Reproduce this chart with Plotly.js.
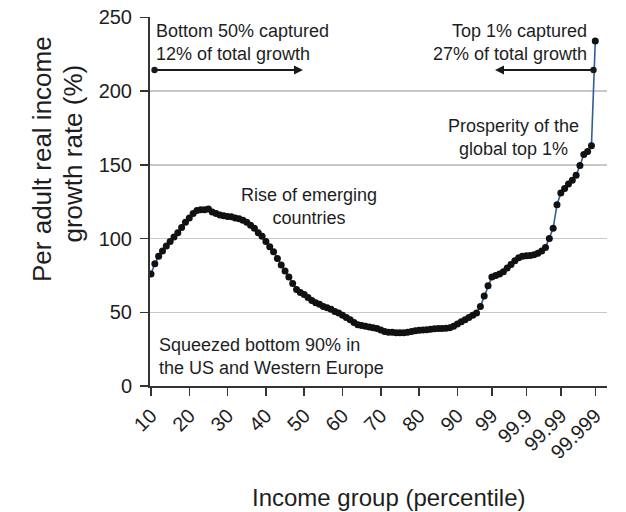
<!DOCTYPE html>
<html>
<head>
<meta charset="utf-8">
<script src="https://cdn.plot.ly/plotly-3.0.1.min.js"></script>
<style>html,body{margin:0;padding:0;background:#fff;}#chart{width:626px;height:512px;}</style>
</head>
<body>
<div id="chart"></div>
<script>
// Income groups (percentiles), equally spaced on the axis
const percentiles = [
  '10','11','12','13','14','15','16','17','18','19',
  '20','21','22','23','24','25','26','27','28','29',
  '30','31','32','33','34','35','36','37','38','39',
  '40','41','42','43','44','45','46','47','48','49',
  '50','51','52','53','54','55','56','57','58','59',
  '60','61','62','63','64','65','66','67','68','69',
  '70','71','72','73','74','75','76','77','78','79',
  '80','81','82','83','84','85','86','87','88','89',
  '90','91','92','93','94','95','96','97','98','99',
  '99.1','99.2','99.3','99.4','99.5','99.6','99.7','99.8','99.9',
  '99.91','99.92','99.93','99.94','99.95','99.96','99.97','99.98','99.99',
  '99.991','99.992','99.993','99.994','99.995','99.996','99.997','99.998','99.999'
];
// Per adult real income growth rate (%)
const growth = [
  76, 83, 88, 91.5, 95, 98, 101, 104, 107.5, 111,
  114, 117, 119, 119.5, 119.5, 120, 118, 117, 116, 115.5,
  115, 114.8, 114, 113.5, 112.5, 111, 109, 107, 104, 101.5,
  98, 94.5, 91, 86.5, 82, 78, 74, 69.5, 65.5, 63.5,
  62, 60, 58, 56.5, 55.5, 54, 53, 52, 50.5, 49.5,
  48, 46.5, 45, 43, 41.5, 41, 40.5, 40, 39.5, 39,
  38, 37, 36.5, 36.5, 36.2, 36.2, 36.2, 36.5, 37, 37.5,
  37.8, 38, 38.2, 38.5, 38.8, 39, 39, 39.2, 39.5, 40.5,
  42, 43.5, 45, 46.5, 48, 49.5, 54, 61, 68, 74,
  75, 76, 77.5, 80, 82.5, 85, 87, 88, 88.3,
  88.5, 89, 90, 91.5, 94, 100, 107, 123, 131,
  134, 137, 139.5, 143, 149.5, 157, 159, 163, 234
];
const tickLabels = ['10','20','30','40','50','60','70','80','90','99','99.9','99.99','99.999'];
const yTicks = [0, 50, 100, 150, 200, 250];

const L = 150, T = 17, W = 457, H = 369;
const px = x => (x - L) / W;
const py = y => (T + H - y) / H;
const FONT = 'Liberation Sans, Arial, Helvetica, sans-serif';
const TXT = '#1e1e1e';

const trace = {
  type: 'scatter',
  mode: 'lines+markers',
  x: percentiles,
  y: growth,
  line: {color: '#2f5f9a', width: 1.6},
  marker: {color: '#111', size: 7},
  hoverinfo: 'x+y'
};

function note(text, x, y, xanchor, align, size, angle) {
  return {
    text: text, xref: 'paper', yref: 'paper', x: px(x), y: py(y),
    xanchor: xanchor, yanchor: angle ? 'middle' : 'top', align: align,
    showarrow: false, textangle: angle || 0,
    font: {family: FONT, size: size, color: TXT}
  };
}
function arrow(hx, hy, tx, ty) {
  return {
    text: '', xref: 'paper', yref: 'paper', x: px(hx), y: py(hy),
    ax: tx - hx, ay: ty - hy, showarrow: true,
    arrowhead: 2, arrowsize: 0.9, arrowwidth: 2, arrowcolor: '#1a1a1a',
    arrowside: 'end+start', startarrowhead: 6, startarrowsize: 0.8
  };
}

const layout = {
  width: 626, height: 512,
  margin: {l: L, r: 626 - L - W, t: T, b: 512 - T - H},
  paper_bgcolor: '#fff', plot_bgcolor: '#fff',
  showlegend: false,
  font: {family: FONT, color: TXT},
  xaxis: {
    type: 'category',
    range: [-0.26, 119.06],
    tickmode: 'array', tickvals: tickLabels, ticktext: tickLabels,
    tickangle: -45, tickfont: {size: 20, color: TXT, family: FONT},
    ticks: 'outside', ticklen: 8, tickwidth: 1.5, tickcolor: '#333',
    showline: true, linecolor: '#333', linewidth: 2,
    showgrid: false, zeroline: false, fixedrange: true
  },
  yaxis: {
    range: [0, 250.3],
    tickmode: 'array', tickvals: yTicks,
    tickfont: {size: 20, color: TXT, family: FONT},
    ticks: 'outside', ticklen: 8, tickwidth: 1.5, tickcolor: '#333',
    ticklabelstandoff: 4,
    showline: true, linecolor: '#333', linewidth: 2,
    showgrid: true, gridcolor: '#c8c8c8', gridwidth: 1.5,
    zeroline: false, fixedrange: true
  },
  annotations: [
    note('Bottom 50% captured<br>12% of total growth', 154, 19, 'left', 'left', 18),
    note('Top 1% captured<br>27% of total growth', 589, 19, 'right', 'right', 18),
    note('Rise of emerging<br>countries', 309, 183, 'center', 'center', 18),
    note('Prosperity of the<br>global top 1%', 513, 114, 'center', 'center', 18),
    note('Squeezed bottom 90% in<br>the US and Western Europe', 157, 333, 'left', 'left', 18),
    note('Per adult real income', 42, 159, 'center', 'center', 26, -90),
    note('growth rate (%)', 72.5, 154, 'center', 'center', 26, -90),
    note('Income group (percentile)', 388, 482, 'center', 'center', 24),
    arrow(303, 70, 153, 70),
    arrow(495, 70, 595, 70)
  ]
};

Plotly.newPlot('chart', [trace], layout, {displayModeBar: false, staticPlot: true});
</script>
</body>
</html>
